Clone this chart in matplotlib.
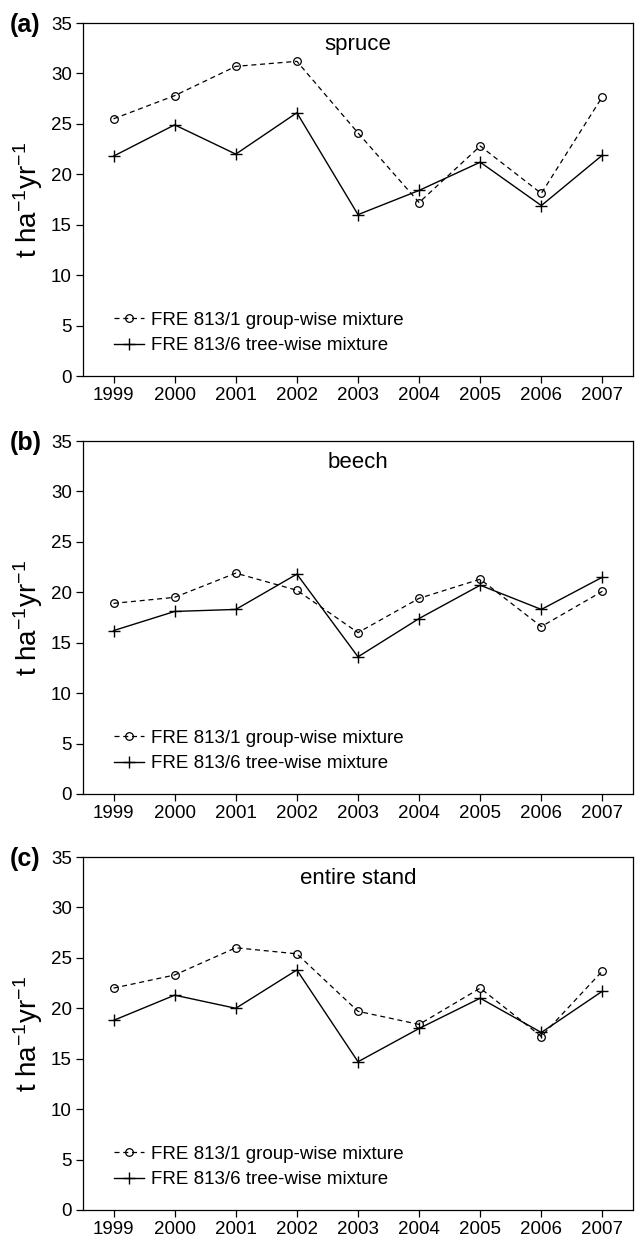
import numpy as np
import matplotlib.pyplot as plt

plt.rcParams['font.family'] = ['Liberation Sans', 'DejaVu Sans']
plt.rcParams['mathtext.default'] = 'regular'

years = [1999, 2000, 2001, 2002, 2003, 2004, 2005, 2006, 2007]

# group-wise mixture (FRE 813/1), dashed with circles
spruce_group = [25.5, 27.8, 30.7, 31.2, 24.1, 17.2, 22.8, 18.1, 27.7]
beech_group = [18.9, 19.5, 21.9, 20.2, 16.0, 19.4, 21.3, 16.6, 20.1]
stand_group = [22.0, 23.3, 26.0, 25.4, 19.7, 18.4, 22.0, 17.2, 23.7]

# tree-wise mixture (FRE 813/6), solid with crosses
spruce_tree = [21.8, 24.9, 22.0, 26.1, 16.0, 18.4, 21.2, 16.9, 21.9]
beech_tree = [16.2, 18.1, 18.3, 21.8, 13.6, 17.4, 20.7, 18.3, 21.5]
stand_tree = [18.8, 21.3, 20.0, 23.8, 14.7, 18.0, 21.0, 17.6, 21.7]

panels = ['(a)', '(b)', '(c)']
titles = ['spruce', 'beech', 'entire stand']
group_series = [spruce_group, beech_group, stand_group]
tree_series = [spruce_tree, beech_tree, stand_tree]

W, H = 638, 1239
fig = plt.figure(figsize=(W / 100, H / 100), dpi=100)

tops = [23, 441, 857]   # pixel top of each axes
ax_h = 353
left, right = 83, 633

for i in range(3):
    bottom = 1 - (tops[i] + ax_h) / H
    ax = fig.add_axes([left / W, bottom, (right - left) / W, ax_h / H])
    ax.plot(years, group_series[i], color='black', ls=(0, (4, 3)), lw=0.9,
            marker='o', ms=5.5, mfc='none', mec='black', mew=0.9,
            label='FRE 813/1 group-wise mixture')
    ax.plot(years, tree_series[i], color='black', ls='-', lw=1.0,
            marker='+', ms=9, mew=1.0,
            label='FRE 813/6 tree-wise mixture')
    ax.set_xlim(1998.5, 2007.5)
    ax.set_ylim(0, 35)
    ax.set_xticks(years)
    ax.set_yticks(np.arange(0, 36, 5))
    ax.tick_params(direction='out', length=5, width=0.9, labelsize=13.5, pad=3)
    for s in ax.spines.values():
        s.set_linewidth(0.9)
    ax.set_ylabel('t ha$^{-1}$yr$^{-1}$', fontsize=20, labelpad=4)
    ax.text(0.5, 0.94, titles[i], transform=ax.transAxes, ha='center',
            va='center', fontsize=16)
    ax.legend(loc='lower left', bbox_to_anchor=(0.035, 0.03), frameon=False,
              fontsize=13.5, handlelength=1.6, handletextpad=0.4,
              labelspacing=0.45, borderaxespad=0.2)
    fig.text(10 / W, 1 - (tops[i] + 2) / H, panels[i], fontsize=18,
             fontweight='bold', ha='left', va='center')

fig.savefig('out.png', dpi=100)
